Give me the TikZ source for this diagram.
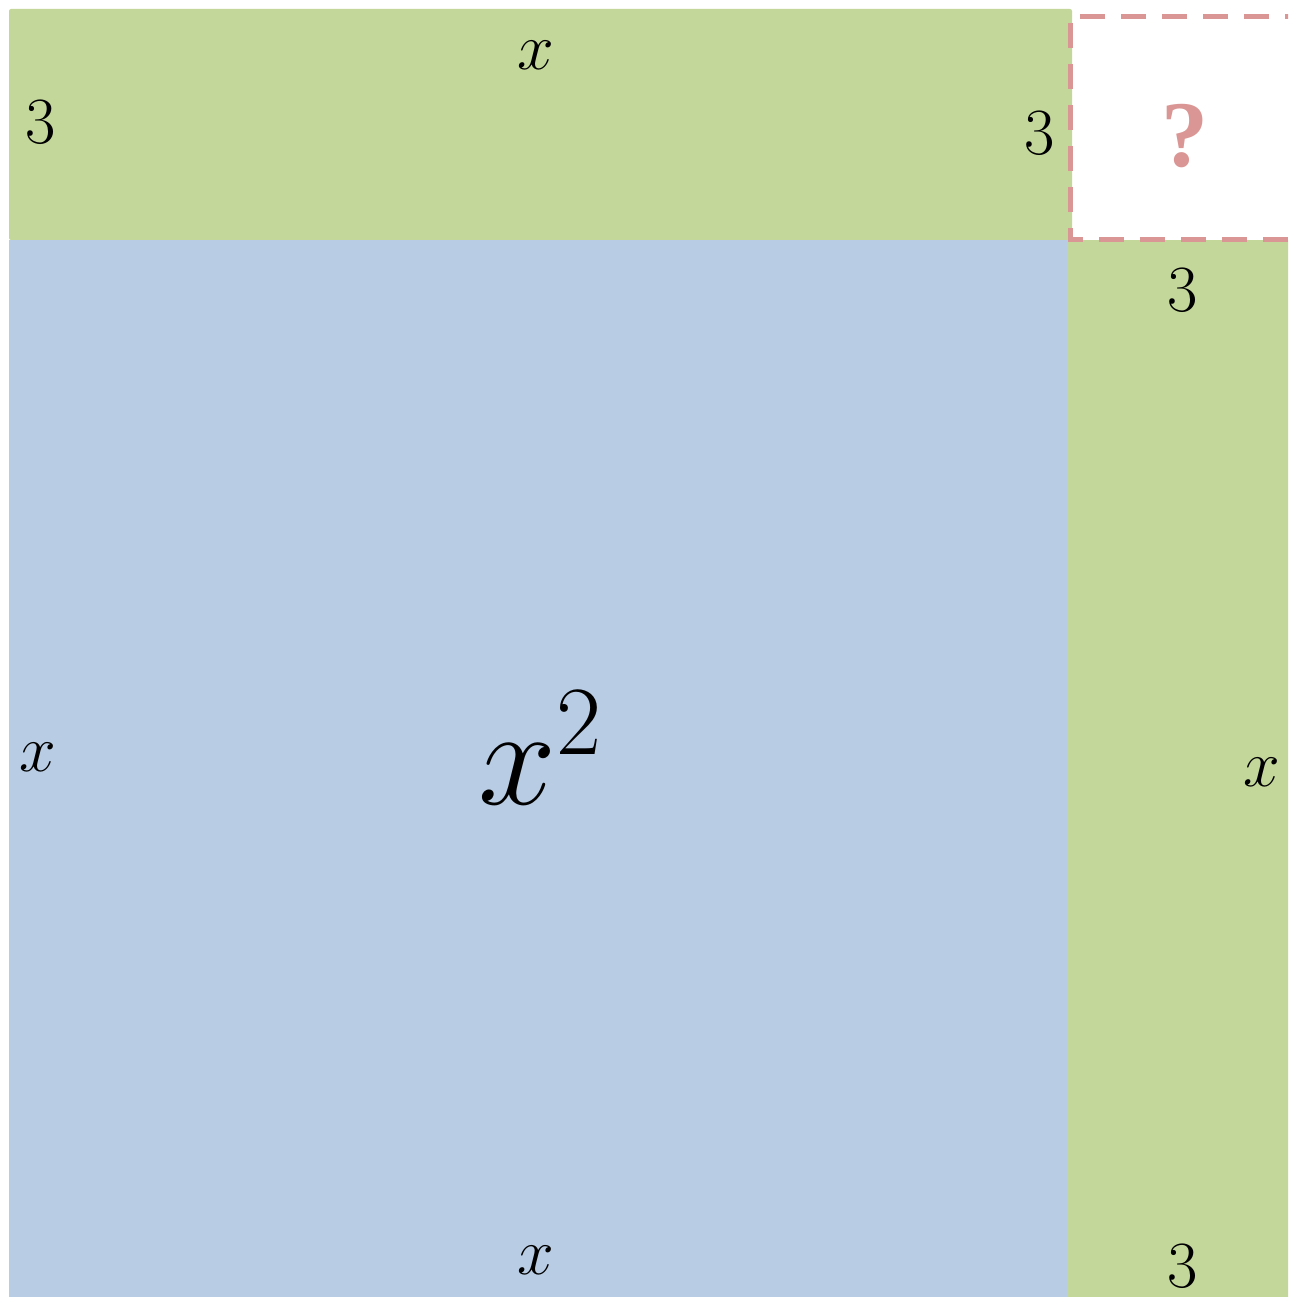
\RequirePackage{fix-cm}
\documentclass[tikz,border=0pt]{standalone}
\usepackage{fontspec}
\newfontfamily\qfont{Liberation Serif}
\definecolor{sqgreen}{RGB}{196,215,155}
\definecolor{sqblue}{RGB}{184,204,228}
\definecolor{sqpink}{RGB}{218,150,148}
\tikzset{
  lbl/.style={inner sep=0pt, font=\fontsize{66}{70}\selectfont},
  big/.style={inner sep=0pt, font=\fontsize{140}{150}\selectfont},
  qmark/.style={inner sep=0pt, text=sqpink, font=\qfont\fontsize{94}{100}\selectfont\bfseries},
  missing/.style={draw=sqpink, line width=5pt, dash pattern=on 25pt off 16pt}
}
\begin{document}
\begin{tikzpicture}[x=1pt,y=-1pt]
\useasboundingbox (0,0) rectangle (1288,1297);
\clip (0,0) rectangle (1288,1297);
% regions
\fill[sqgreen, rounded corners=2pt] (9,9) rectangle (1072,240);
\fill[sqblue] (9,240) rectangle (1067,1297);
\fill[sqgreen] (1067,240) rectangle (1300,1300);
\draw[missing] (1310,17) -- (1070,17) -- (1070,240) -- (1310,240);
% labels
\node[lbl] (topx) at (536,55) {$x$};
\node[lbl] (topl3) at (41,122) {3};
\node[lbl] (topr3) at (1040,133) {3};
\node[qmark] (q) at (1185,136) {?};
\node[lbl] (right3) at (1183,290) {3};
\node[lbl] (leftx) at (38,757) {$x$};
\node[big] (sq) at (540,748) {$x^2$};
\node[lbl] (rightx) at (1262,772) {$x$};
\node[lbl] (botx) at (536,1260) {$x$};
\node[lbl] (bot3) at (1183,1266) {3};
\end{tikzpicture}
\end{document}
